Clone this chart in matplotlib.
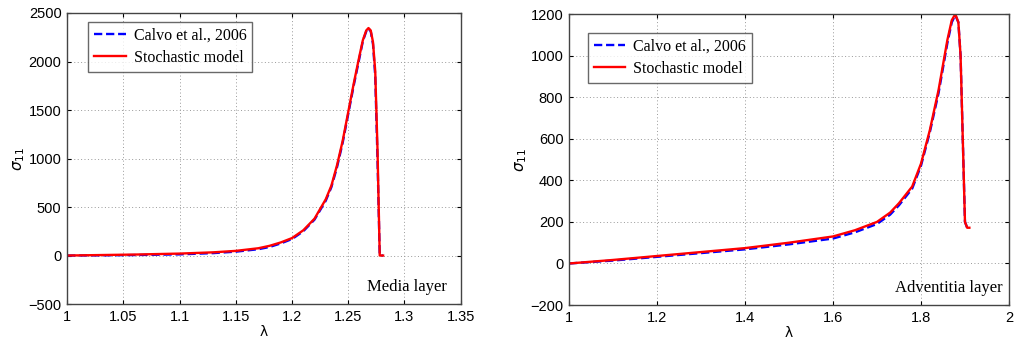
import numpy as np
import matplotlib.pyplot as plt

# media layer (left panel)
lam_media = [1.00, 1.03, 1.06, 1.10, 1.13, 1.15, 1.17, 1.18, 1.19, 1.20, 1.21, 1.22,
             1.23, 1.235, 1.24, 1.245, 1.25, 1.255, 1.26, 1.263, 1.266, 1.268,
             1.270, 1.272, 1.274, 1.276, 1.278, 1.281]
stoch_media = [0, 5, 10, 20, 33, 48, 75, 100, 135, 180, 260, 380,
               580, 720, 930, 1180, 1480, 1780, 2060, 2220, 2320, 2345,
               2320, 2200, 1900, 1100, 0, 0]
calvo_media = [0, 2, 5, 12, 25, 40, 65, 88, 125, 170, 250, 370,
               565, 705, 910, 1160, 1460, 1760, 2040, 2210, 2310, 2340,
               2310, 2180, 1850, 1000, 0, 0]

# adventitia layer (right panel)
lam_adv = [1.00, 1.1, 1.2, 1.3, 1.4, 1.5, 1.6, 1.65, 1.7, 1.73, 1.75, 1.78, 1.80,
           1.82, 1.84, 1.86, 1.87, 1.878, 1.885, 1.89, 1.895, 1.90, 1.905, 1.91]
stoch_adv = [0, 17, 36, 55, 74, 100, 130, 160, 200, 245, 290, 370, 480,
             640, 835, 1075, 1170, 1200, 1160, 1000, 600, 200, 172, 172]
calvo_adv = [0, 14, 32, 50, 68, 92, 120, 150, 190, 235, 280, 360, 470,
             630, 820, 1060, 1160, 1195, 1160, 1000, 600, 200, 172, 172]

serif = 'Liberation Serif'
sans = 'Liberation Sans'

fig = plt.figure(figsize=(10.17, 3.42), dpi=100)
ax1 = fig.add_axes([0.066, 0.111, 0.387, 0.851])
ax2 = fig.add_axes([0.5595, 0.108, 0.4326, 0.851])


def style(ax):
    ax.grid(True, linestyle=(0, (1, 2.5)), color='#999999', linewidth=0.7)
    ax.tick_params(direction='in', top=True, right=True, length=3,
                   labelsize=10.5, pad=4)
    for lab in ax.get_xticklabels() + ax.get_yticklabels():
        lab.set_fontfamily(sans)
    for s in ax.spines.values():
        s.set_linewidth(1.0)
        s.set_color('#444444')
    ax.set_xlabel('λ', fontsize=10, fontfamily='DejaVu Sans', labelpad=1)
    ax.set_ylabel(r'$\sigma_{11}$', fontsize=11, labelpad=1)


def legend(ax, x, y):
    leg = ax.legend(loc='upper left', bbox_to_anchor=(x, y), borderaxespad=0,
                    fancybox=False, edgecolor='#444444',
                    prop={'family': serif, 'size': 11.5},
                    handlelength=2.0, borderpad=0.35, labelspacing=0.4,
                    handletextpad=0.5)
    leg.get_frame().set_linewidth(1.0)


ax1.plot(lam_media, calvo_media, color='blue', linestyle=(0, (3.5, 1.6)),
         linewidth=1.7, label='Calvo et al., 2006')
ax1.plot(lam_media, stoch_media, color='red', linewidth=1.7,
         label='Stochastic model')
ax1.set_xlim(1, 1.35)
ax1.set_ylim(-500, 2500)
ax1.set_xticks(np.arange(1, 1.351, 0.05))
ax1.set_xticklabels(['1', '1.05', '1.1', '1.15', '1.2', '1.25', '1.3', '1.35'])
ax1.set_yticks(np.arange(-500, 2501, 500))
style(ax1)
ax1.text(0.965, 0.045, 'Media layer', transform=ax1.transAxes, ha='right',
         fontsize=12, fontfamily=serif)
legend(ax1, 0.053, 0.969)

ax2.plot(lam_adv, calvo_adv, color='blue', linestyle=(0, (3.5, 1.6)),
         linewidth=1.7, label='Calvo et al., 2006')
ax2.plot(lam_adv, stoch_adv, color='red', linewidth=1.7,
         label='Stochastic model')
ax2.set_xlim(1, 2)
ax2.set_ylim(-200, 1200)
ax2.set_xticks(np.arange(1, 2.01, 0.2))
ax2.set_xticklabels(['1', '1.2', '1.4', '1.6', '1.8', '2'])
ax2.set_yticks(np.arange(-200, 1201, 200))
style(ax2)
ax2.text(0.985, 0.045, 'Adventitia layer', transform=ax2.transAxes, ha='right',
         fontsize=12, fontfamily=serif)
legend(ax2, 0.043, 0.935)

fig.savefig('out.png', dpi=100)
